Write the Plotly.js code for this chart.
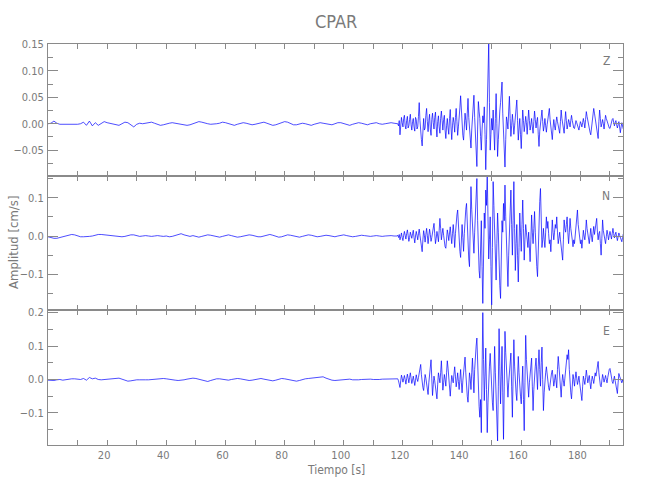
<!DOCTYPE html>
<html>
<head>
<meta charset="utf-8">
<script src="https://cdn.plot.ly/plotly-3.0.1.min.js"></script>
<style>html,body{margin:0;padding:0;background:#fff}#chart{width:650px;height:500px}</style>
</head>
<body>
<div id="chart"></div>
<script>
// ---------------- data ----------------
const stationName = "CPAR";
const componentNames = ["Z", "N", "E"];
const xTitle = "Tiempo [s]";
const yTitle = "Amplitud [cm/s]";

// sampling grids: pre-event (1 s) and strong motion (0.25 s)
const quietStart = 0, quietStep = 1;
const strongStart = 118, strongStep = 0.25;

const xTickValues = [10, 20, 30, 40, 50, 60, 70, 80, 90, 100, 110, 120, 130, 140, 150, 160, 170, 180, 190];
const xTickLabels = ["", "20", "", "40", "", "60", "", "80", "", "100", "", "120", "", "140", "", "160", "", "180", ""];

const zTickValues = [-0.05, 0, 0.05, 0.10, 0.15];
const zTickLabels = ["\u22120.05", "0.00", "0.05", "0.10", "0.15"];
const zMinorValues = [-0.075, -0.025, 0.025, 0.075, 0.125];
const nTickValues = [-0.1, 0, 0.1];
const nTickLabels = ["\u22120.1", "0.0", "0.1"];
const nMinorValues = [-0.15, -0.05, 0.05, 0.15];
const eTickValues = [-0.1, 0, 0.1, 0.2];
const eTickLabels = ["\u22120.1", "0.0", "0.1", "0.2"];
const eMinorValues = [-0.15, -0.05, 0.05, 0.15];

// Z component
const zQuiet = [
  0, 0.001, 0.005, 0.001, -0.001, -0.001, -0.002, -0.001, -0.001, -0.002,
  -0.001, 0, 0.003, -0.003, 0.005, -0.004, 0.002, -0.003, 0.001, 0.004,
  0.002, 0.001, 0, -0.002, -0.003, 0, 0.003, 0.002, -0.002, -0.006,
  -0.001, 0.001, 0, 0.001, 0.002, 0.003, 0.001, -0.001, -0.003, -0.002,
  0, 0.001, 0.002, 0.001, 0, -0.001, -0.002, -0.003, -0.002, 0,
  0.002, 0.004, 0.003, 0.001, 0, -0.001, -0.001, 0, 0.001, 0.003,
  0.002, 0, -0.002, -0.003, -0.001, 0.001, 0.002, 0.001, -0.001, -0.002,
  -0.001, 0, 0.002, 0.003, 0.001, -0.001, -0.003, -0.002, 0, 0.002,
  0.004, 0.003, 0, -0.002, -0.002, 0, 0.001, 0, -0.002, -0.003,
  -0.001, 0.001, 0.002, 0.001, 0, -0.001, -0.002, 0, 0.002, 0.002,
  0, -0.002, -0.003, -0.001, 0.001, 0.002, 0.001, -0.001, -0.002, 0,
  0.001, 0.002, 0, -0.001, 0, 0.001, 0.002, 0.001
];
const zStrong = [
  0.001, 0.000, -0.004, 0.006, -0.021, -0.008, 0.012, 0.002, -0.006, 0.010, 0.016, -0.004, -0.010, 0.006, 0.014, -0.008, -0.004, 0.008, 0.018, -0.002,
  -0.012, 0.004, 0.010, -0.006, -0.014, 0.012, 0.008, -0.010, -0.006, 0.014, 0.040, 0.006, -0.020, -0.030, -0.042, 0.002, 0.010, -0.012, -0.008, 0.016,
  0.029, 0.004, -0.015, 0.006, 0.018, -0.010, -0.022, 0.008, 0.020, 0.002, -0.010, 0.012, 0.022, -0.006, -0.025, 0.004, 0.015, -0.006, -0.018, 0.010,
  0.024, 0.006, -0.012, 0.008, 0.016, -0.012, -0.028, -0.004, 0.010, -0.008, -0.020, 0.010, 0.027, -0.006, -0.030, -0.004, 0.012, 0.002, -0.016, 0.012,
  0.029, 0.004, -0.022, -0.006, 0.008, 0.030, 0.053, 0.018, -0.010, -0.022, -0.031, -0.004, 0.020, 0.006, -0.012, 0.020, 0.048, 0.012, -0.015, -0.030,
  -0.046, -0.012, 0.018, 0.040, 0.054, 0.012, -0.020, -0.050, -0.081, -0.010, 0.042, 0.024, 0.010, -0.024, -0.050, -0.012, 0.015, 0.002, 0.032, -0.020,
  -0.087, -0.030, 0.030, 0.100, 0.152, 0.040, -0.050, -0.020, 0.010, -0.012, 0.026, -0.014, -0.050, 0.010, 0.057, 0.000, -0.062, -0.030, 0.012, 0.024,
  0.040, 0.060, 0.079, 0.020, -0.030, -0.060, -0.082, -0.030, 0.013, 0.004, -0.010, 0.024, 0.052, 0.010, -0.024, -0.004, 0.018, 0.002, -0.020, -0.004,
  0.012, 0.030, 0.045, 0.006, -0.031, -0.010, 0.010, -0.020, -0.047, -0.008, 0.026, 0.006, -0.015, -0.002, 0.014, 0.002, -0.020, 0.004, 0.026, 0.006,
  -0.012, -0.002, 0.010, -0.006, -0.018, 0.004, 0.024, 0.008, -0.008, 0.004, 0.012, -0.020, -0.043, -0.014, 0.005, 0.018, 0.026, 0.004, -0.014, -0.004,
  0.010, -0.004, -0.016, -0.002, 0.012, 0.020, 0.029, 0.008, -0.010, -0.022, -0.030, -0.008, 0.008, -0.004, -0.012, 0.002, 0.013, 0.004, -0.006, -0.012,
  -0.018, 0.004, 0.026, 0.010, -0.004, -0.012, -0.018, 0.004, 0.023, 0.006, -0.010, -0.002, 0.008, 0.002, -0.006, 0.006, 0.016, 0.006, -0.004, -0.008,
  -0.009, -0.002, 0.006, 0.002, -0.004, -0.010, -0.012, -0.004, 0.004, 0.000, -0.006, 0.002, 0.010, 0.002, -0.008, 0.008, 0.023, 0.014, 0.004, -0.004,
  -0.010, -0.016, -0.021, -0.008, 0.006, 0.018, 0.029, 0.020, 0.010, -0.004, -0.015, -0.024, -0.028, 0.004, 0.026, 0.010, -0.006, 0.000, 0.008, 0.000,
  -0.010, 0.004, 0.016, 0.010, 0.004, -0.002, -0.006, -0.008, -0.009, -0.002, 0.006, 0.008, 0.010, 0.002, -0.004, 0.002, 0.006, -0.002, -0.008, -0.002,
  0.004, -0.006, -0.017, -0.006, 0.002, -0.004, -0.010, -0.006
];

// N component
const nQuiet = [
  -0.002, -0.005, -0.006, -0.006, -0.004, -0.002, 0, 0.002, 0.004, 0.003,
  0, -0.002, -0.002, -0.002, -0.001, 0, 0.002, 0.004, 0.004, 0.003,
  0.003, 0.002, 0.001, 0, -0.001, -0.002, -0.001, 0.001, 0.003, 0.003,
  0, -0.001, 0, 0.001, 0, -0.001, 0, 0.001, 0, -0.001,
  0, -0.002, -0.001, 0.002, 0.005, 0.006, 0.003, 0, -0.001, 0.001,
  -0.001, -0.003, -0.001, 0.001, 0.003, 0.002, 0, -0.002, -0.003, -0.001,
  0.002, 0.003, 0.001, -0.001, -0.003, -0.002, 0, 0.002, 0.003, 0.002,
  0, -0.002, -0.002, 0, 0.002, 0.004, 0.002, -0.001, -0.003, -0.002,
  0.001, 0.003, 0.002, 0, -0.002, -0.003, -0.001, 0.001, 0.003, 0.002,
  0, -0.002, -0.001, 0.001, 0.002, 0.001, -0.001, -0.002, 0, 0.002,
  0.003, 0.001, -0.001, -0.002, -0.001, 0.001, 0.002, 0.001, 0, -0.001,
  0, 0.001, 0, -0.001, 0, 0.001, 0.001, 0
];
const nStrong = [
  0, 0.002, -0.004, 0.004, -0.010, -0.002, 0.008, -0.004, -0.012, 0.002, 0.012, 0.002, -0.008, 0.006, 0.016, 0.002, -0.014, -0.004, 0.010, 0.002,
  -0.006, 0.006, 0.015, -0.004, -0.018, 0.000, 0.012, 0.002, -0.010, 0.006, 0.018, 0.002, -0.012, -0.028, -0.041, -0.010, 0.014, 0.002, -0.016, 0.004,
  0.020, 0.002, -0.020, 0.000, 0.018, 0.004, -0.014, -0.004, 0.010, 0.024, 0.033, 0.006, -0.020, -0.006, 0.012, 0.000, -0.015, 0.014, 0.046, 0.020,
  -0.010, 0.006, 0.020, 0.002, -0.018, -0.028, -0.032, -0.006, 0.016, 0.004, -0.012, 0.008, 0.024, 0.000, -0.020, 0.006, 0.030, 0.004, -0.030, 0.006,
  0.040, 0.055, 0.068, 0.020, -0.020, -0.040, -0.056, -0.010, 0.030, -0.004, -0.040, 0.006, 0.050, 0.070, 0.085, 0.030, -0.030, -0.060, -0.080, 0.020,
  0.129, 0.070, 0.020, -0.020, -0.045, 0.010, 0.060, 0.110, 0.150, 0.040, -0.060, -0.090, -0.110, -0.030, 0.040, -0.080, -0.176, -0.060, 0.060, 0.020,
  0.120, 0.080, 0.165, 0.050, -0.060, -0.010, 0.050, -0.080, -0.180, -0.030, 0.142, 0.080, 0.020, -0.060, -0.115, -0.020, 0.060, 0.010, -0.080, -0.130,
  -0.163, -0.060, 0.040, 0.010, 0.085, 0.040, 0.133, 0.050, -0.040, -0.090, -0.132, -0.050, 0.030, 0.070, 0.120, 0.030, -0.050, 0.040, 0.142, 0.020,
  -0.090, -0.020, 0.030, -0.050, -0.120, -0.030, 0.060, 0.010, -0.040, 0.030, 0.094, 0.020, -0.063, -0.010, 0.030, 0.010, -0.020, -0.030, 0.010, -0.030,
  -0.067, -0.010, 0.055, 0.010, -0.020, 0.020, 0.064, 0.010, -0.050, -0.080, -0.106, -0.030, 0.050, 0.090, 0.124, 0.040, -0.030, -0.010, 0.020, -0.010,
  -0.030, 0.010, 0.050, 0.020, 0.038, 0.006, -0.020, -0.010, -0.041, 0.000, 0.042, 0.010, -0.010, 0.010, 0.030, 0.020, 0.050, 0.010, -0.020, -0.006,
  0.010, -0.010, -0.030, -0.050, -0.063, -0.010, 0.042, 0.020, 0.010, 0.030, 0.050, 0.010, -0.020, 0.010, 0.046, 0.020, 0.010, -0.010, -0.028, -0.010,
  -0.020, 0.004, 0.030, 0.050, 0.068, 0.030, 0.010, -0.010, -0.020, -0.010, -0.032, -0.010, 0.015, 0.000, -0.010, 0.010, 0.042, 0.020, 0.005, -0.010,
  -0.020, 0.000, 0.020, 0.000, -0.015, 0.006, 0.025, 0.004, 0.016, 0.030, 0.046, 0.010, -0.010, 0.006, 0.012, -0.020, -0.050, -0.006, 0.042, 0.014,
  0.000, -0.012, -0.020, -0.002, 0.015, 0.004, -0.010, 0.002, 0.012, 0.002, -0.008, 0.006, 0.020, 0.006, -0.005, 0.004, 0.010, -0.002, -0.012, -0.002,
  0.008, 0.002, -0.006, -0.010, -0.015, -0.004, 0.005, -0.002
];

// E component
const eQuiet = [
  -0.002, -0.003, -0.003, -0.001, 0, -0.002, 0, 0.002, 0.002, 0.002,
  0.001, 0, 0.003, -0.002, 0.006, 0.002, 0.004, 0, -0.001, 0,
  0.001, 0.002, 0.002, 0.003, 0.004, 0.001, -0.003, -0.005, -0.004, -0.002,
  -0.001, -0.001, 0, -0.001, -0.001, 0, -0.001, 0, 0.002, 0.003,
  0.002, 0, -0.001, -0.002, -0.003, -0.003, -0.001, 0.001, 0.003, 0.004,
  0.003, 0.001, -0.002, -0.005, -0.006, -0.003, 0, 0.002, 0.002, 0.001,
  -0.001, -0.002, 0, 0.002, 0.003, 0.002, 0, -0.002, -0.003, -0.002,
  0, 0.002, 0.003, 0.001, -0.001, -0.003, -0.004, -0.002, 0.001, 0.003,
  0.002, 0, -0.002, -0.004, -0.005, -0.003, 0, 0.002, 0.003, 0.004,
  0.005, 0.007, 0.009, 0.008, 0.004, 0, -0.002, -0.003, -0.002, 0,
  0.001, 0.002, 0.001, -0.001, -0.002, -0.001, 0, 0.001, 0.002, 0.001,
  0, -0.001, 0, 0.001, 0.001, 0, 0, 0.001
];
const eStrong = [
  0, 0.002, -0.004, -0.012, -0.024, -0.004, 0.013, 0.004, -0.008, 0.002, 0.012, 0.000, -0.014, 0.002, 0.016, 0.004, -0.010, 0.006, 0.020, 0.004,
  -0.012, -0.002, 0.010, -0.004, -0.018, -0.002, 0.014, 0.002, -0.006, 0.006, 0.020, 0.036, 0.045, 0.014, -0.010, -0.024, -0.033, -0.008, 0.015, 0.004,
  -0.010, -0.030, -0.045, -0.010, 0.020, 0.044, 0.059, 0.004, -0.048, -0.016, 0.010, -0.004, -0.020, -0.044, -0.058, -0.014, 0.020, 0.006, -0.010, 0.020,
  0.056, 0.010, -0.032, -0.010, 0.015, 0.000, -0.020, 0.020, 0.056, 0.034, 0.010, -0.020, -0.050, -0.016, 0.012, 0.000, -0.010, 0.016, 0.038, 0.010,
  -0.022, -0.004, 0.020, -0.006, -0.030, 0.000, 0.030, -0.010, -0.040, -0.004, 0.030, 0.050, 0.067, 0.020, -0.030, -0.050, -0.068, -0.020, 0.020, 0.004,
  -0.030, 0.020, 0.064, 0.010, -0.040, 0.030, 0.089, 0.100, 0.124, 0.040, -0.040, -0.080, -0.113, -0.060, -0.159, 0.040, 0.200, 0.060, -0.063, 0.010,
  0.094, -0.030, -0.159, -0.070, 0.020, 0.040, 0.078, 0.020, -0.040, -0.070, -0.093, 0.010, 0.099, 0.020, -0.060, -0.120, -0.184, -0.020, 0.152, 0.040,
  -0.073, 0.010, 0.099, -0.040, -0.179, -0.020, 0.144, 0.080, 0.030, -0.010, -0.053, -0.010, 0.020, 0.050, 0.079, -0.020, -0.113, 0.010, 0.119, 0.040,
  -0.020, -0.040, -0.063, 0.010, 0.069, 0.020, -0.030, -0.050, -0.073, -0.010, 0.040, -0.060, -0.153, -0.010, 0.132, 0.060, 0.010, -0.020, -0.053, -0.010,
  0.020, 0.040, 0.064, -0.020, -0.093, -0.030, 0.020, 0.040, 0.064, 0.010, -0.030, 0.040, 0.089, 0.030, -0.020, 0.050, 0.097, 0.000, -0.093, -0.040,
  0.010, 0.020, 0.038, 0.010, -0.010, -0.024, -0.033, -0.010, 0.010, 0.020, 0.028, 0.004, -0.020, -0.004, 0.015, -0.004, -0.025, 0.030, 0.069, 0.040,
  0.010, -0.030, -0.053, -0.010, 0.015, -0.004, -0.020, 0.004, 0.028, 0.050, 0.074, 0.060, 0.089, 0.030, -0.020, -0.040, -0.058, -0.020, 0.015, 0.000,
  -0.020, 0.004, 0.023, 0.004, -0.015, -0.004, 0.010, -0.010, -0.030, -0.050, -0.063, -0.020, 0.010, -0.002, -0.015, 0.006, 0.028, 0.010, -0.010, 0.002,
  0.012, -0.010, -0.028, -0.006, 0.010, 0.000, -0.012, 0.004, 0.020, 0.010, 0.030, 0.044, 0.054, 0.020, -0.010, -0.018, -0.022, -0.004, 0.015, 0.004,
  -0.008, 0.002, 0.012, 0.000, -0.010, 0.006, 0.020, 0.030, 0.033, 0.014, 0.005, -0.006, -0.012, 0.000, 0.010, -0.004, -0.015, -0.030, -0.042, -0.010,
  0.018, 0.010, 0.005, -0.004, -0.010, -0.002, -0.007, -0.004
];

// ---------------- drawing ----------------
function grid(start, step, n) {
  const out = [];
  for (let i = 0; i < n; i++) out.push(start + i * step);
  return out;
}
function series(quiet, strong) {
  return {
    x: grid(quietStart, quietStep, quiet.length).concat(grid(strongStart, strongStep, strong.length)),
    y: quiet.concat(strong)
  };
}

const lineColor = "#0000ff";
const axisGray = "#8a8a8a";
const textGray = "#7a7a7a";
const fontFamily = '"Liberation Sans Narrow", "DejaVu Sans Condensed", "Roboto", sans-serif';

const comps = [
  {q: zQuiet, s: zStrong, xa: "x3", ya: "y3"},
  {q: nQuiet, s: nStrong, xa: "x2", ya: "y2"},
  {q: eQuiet, s: eStrong, xa: "x",  ya: "y"}
];
const data = comps.map(c => {
  const d = series(c.q, c.s);
  return {x: d.x, y: d.y, xaxis: c.xa, yaxis: c.ya, type: "scatter", mode: "lines",
          line: {color: lineColor, width: 0.7}, hoverinfo: "skip", showlegend: false};
});

const xRange = [0, 194.4];
function xAxis(anchor, labels) {
  return {
    anchor: anchor, range: xRange, showgrid: false, zeroline: false,
    showline: true, linecolor: axisGray, linewidth: 1, mirror: "allticks",
    ticks: "inside", ticklen: 5, tickcolor: axisGray, tickwidth: 1,
    tickmode: "array", tickvals: xTickValues, ticktext: xTickLabels,
    showticklabels: labels, ticklabelshift: -3,
    tickfont: {family: fontFamily, size: 11, color: textGray}
  };
}
function yAxis(anchor, domain, range, vals, labels, minorVals) {
  return {
    anchor: anchor, domain: domain, range: range, showgrid: false, zeroline: false,
    showline: true, linecolor: axisGray, linewidth: 1, mirror: "allticks",
    ticks: "inside", ticklen: 10, tickcolor: axisGray, tickwidth: 1,
    tickmode: "array", tickvals: vals, ticktext: labels,
    minor: {tickmode: "array", tickvals: minorVals, ticks: "inside", ticklen: 5, tickcolor: axisGray, tickwidth: 1, showgrid: false},
    tickfont: {family: fontFamily, size: 11, color: textGray},
    ticklabelstandoff: 1
  };
}

const pTop = 44, pBottom = 445;
const toPaper = px => (pBottom - px) / (pBottom - pTop);
const b1 = toPaper(310.3), b2 = toPaper(175.5);

const layout = {
  width: 650, height: 500,
  margin: {l: 48, r: 27, t: pTop, b: 500 - pBottom, pad: 0},
  paper_bgcolor: "#ffffff", plot_bgcolor: "#ffffff",
  showlegend: false,
  xaxis: xAxis("y", true),
  xaxis2: xAxis("y2", false),
  xaxis3: xAxis("y3", false),
  yaxis: yAxis("x", [0, b1], [-0.196, 0.207], eTickValues, eTickLabels, eMinorValues),
  yaxis2: yAxis("x2", [b1, b2], [-0.194, 0.158], nTickValues, nTickLabels, nMinorValues),
  yaxis3: yAxis("x3", [b2, 1], [-0.098, 0.151], zTickValues, zTickLabels, zMinorValues),
  annotations: [
    {text: stationName, xref: "paper", yref: "paper", x: 0.5, y: toPaper(21.5), xanchor: "center", yanchor: "middle",
     showarrow: false, font: {family: fontFamily, size: 18, color: textGray}},
    {text: xTitle, xref: "paper", yref: "paper", x: 0.5, y: toPaper(470), xanchor: "center", yanchor: "middle",
     showarrow: false, font: {family: fontFamily, size: 12, color: textGray}},
    {text: yTitle, xref: "paper", yref: "paper", x: (14 - 48) / 575, y: toPaper(243), xanchor: "center", yanchor: "middle",
     textangle: -90, showarrow: false, font: {family: fontFamily, size: 13, color: textGray}},
    {text: componentNames[0], xref: "paper", yref: "paper", x: (606 - 48) / 575, y: toPaper(61), xanchor: "center", yanchor: "middle",
     showarrow: false, font: {family: fontFamily, size: 12, color: textGray}},
    {text: componentNames[1], xref: "paper", yref: "paper", x: (606 - 48) / 575, y: toPaper(196), xanchor: "center", yanchor: "middle",
     showarrow: false, font: {family: fontFamily, size: 12, color: textGray}},
    {text: componentNames[2], xref: "paper", yref: "paper", x: (606 - 48) / 575, y: toPaper(331), xanchor: "center", yanchor: "middle",
     showarrow: false, font: {family: fontFamily, size: 12, color: textGray}}
  ]
};

Plotly.newPlot("chart", data, layout, {staticPlot: true, displayModeBar: false});
</script>
</body>
</html>
